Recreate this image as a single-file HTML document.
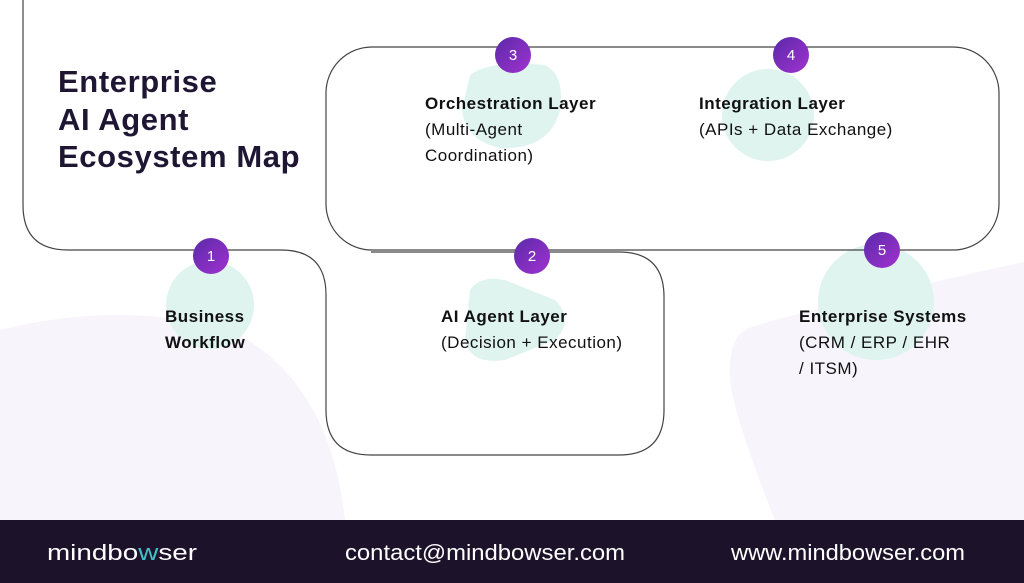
<!DOCTYPE html>
<html><head><meta charset="utf-8"><style>
html,body{margin:0;padding:0;width:1024px;height:583px;overflow:hidden;background:#fff;font-family:"Liberation Sans",sans-serif}
</style></head><body>
<svg width="1024" height="583" viewBox="0 0 1024 583" xmlns="http://www.w3.org/2000/svg">
<defs>
<linearGradient id="g" x1="0" y1="0" x2="1" y2="1"><stop offset="0" stop-color="#5b2aa8"/><stop offset="1" stop-color="#a032d0"/></linearGradient>
</defs>
<path d="M0,330 Q120,300 230,330 Q330,380 345,520 L0,520 Z" fill="#f7f4fc"/>
<path d="M745,330 Q760,320 1024,262 L1024,520 L775,520 Q735,420 730,380 Q728,340 745,330 Z" fill="#f7f4fc"/>
<circle cx="210" cy="305" r="44" fill="#dff3ef"/>
<path d="M470,290 Q480,275 505,280 L555,300 Q575,320 555,340 L505,360 Q470,365 465,340 Z" fill="#dff3ef"/>
<path d="M470,75 Q490,60 545,65 Q565,75 560,110 Q550,150 500,148 Q465,140 462,110 Z" fill="#dff3ef"/>
<circle cx="768" cy="115" r="46" fill="#dff3ef"/>
<circle cx="876" cy="302" r="58" fill="#dff3ef"/>
<g fill="none" stroke="#444" stroke-width="1.2">
<path d="M23,0 V205 Q23,250 68,250 H281 Q326,250 326,295"/>
<path d="M371,252 H619 Q664,252 664,297 V410 Q664,455 619,455 H371 Q326,455 326,410 V295"/>
<rect x="326" y="47" width="673" height="203" rx="46"/>
</g>
<g fill="url(#g)">
<circle cx="211" cy="256" r="18"/><circle cx="532" cy="256" r="18"/>
<circle cx="513" cy="55" r="18"/><circle cx="791" cy="55" r="18"/>
<circle cx="882" cy="250" r="18"/>
</g>
<g fill="#fff" font-size="15" text-anchor="middle">
<text x="211" y="261">1</text><text x="532" y="261">2</text>
<text x="513" y="60">3</text><text x="791" y="60">4</text><text x="882" y="255">5</text>
</g>
<g fill="#1e1633" font-size="31" font-weight="bold" letter-spacing="0.6">
<text x="58" y="92">Enterprise</text>
<text x="58" y="130">AI Agent</text>
<text x="58" y="167">Ecosystem Map</text>
</g>
<g fill="#111" font-size="17" letter-spacing="0.5">
<text x="165" y="322" font-weight="bold">Business</text>
<text x="165" y="348" font-weight="bold">Workflow</text>
<text x="441" y="322" font-weight="bold">AI Agent Layer</text>
<text x="441" y="348">(Decision + Execution)</text>
<text x="425" y="109" font-weight="bold">Orchestration Layer</text>
<text x="425" y="135">(Multi-Agent</text>
<text x="425" y="161">Coordination)</text>
<text x="699" y="109" font-weight="bold">Integration Layer</text>
<text x="699" y="135">(APIs + Data Exchange)</text>
<text x="799" y="322" font-weight="bold">Enterprise Systems</text>
<text x="799" y="348">(CRM / ERP / EHR</text>
<text x="799" y="374">/ ITSM)</text>
</g>
<rect x="0" y="520" width="1024" height="63" fill="#1c1229"/>
<g fill="#fff" font-size="22">
<text x="47" y="560" textLength="150" lengthAdjust="spacingAndGlyphs">mindbo<tspan fill="#3fc1c9">w</tspan>ser</text>
<text x="345" y="560" textLength="280" lengthAdjust="spacingAndGlyphs">contact@mindbowser.com</text>
<text x="731" y="560" textLength="234" lengthAdjust="spacingAndGlyphs">www.mindbowser.com</text>
</g>
</svg>
</body></html>
